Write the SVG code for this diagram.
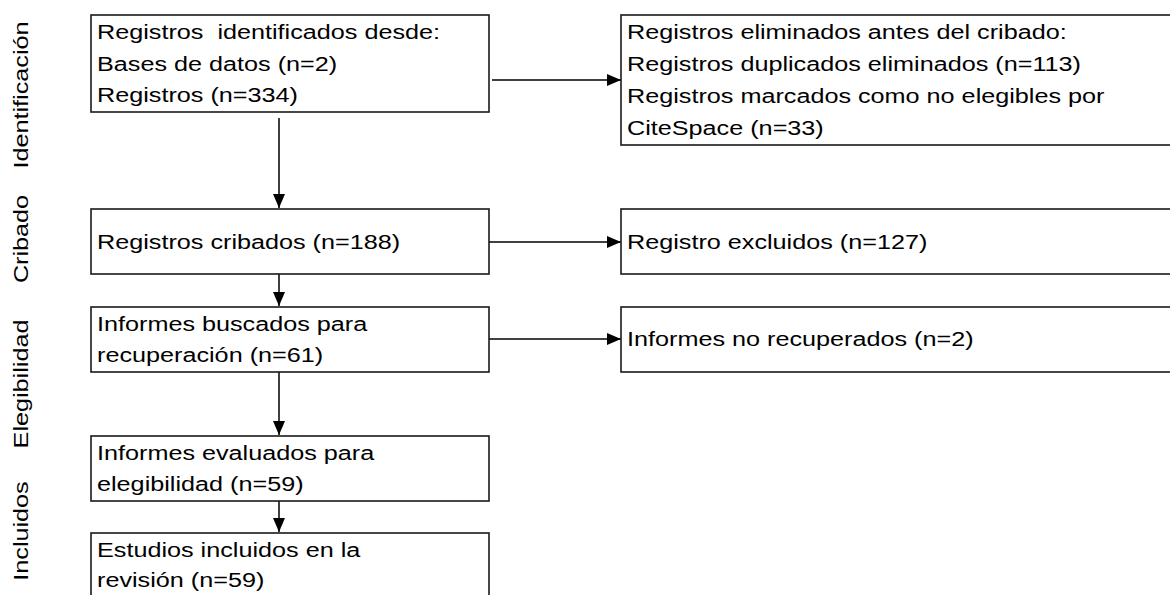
<svg xmlns="http://www.w3.org/2000/svg" width="1170" height="595" viewBox="0 0 1170 595">
<style>
.box{fill:#fff;stroke:#1a1a1a;stroke-width:1.6}
.t{font-family:"Liberation Sans",Arial,sans-serif;font-size:21px;fill:#000}
.lbl{font-family:"Liberation Sans",Arial,sans-serif;font-size:21px;fill:#000;text-anchor:middle}
.c{stroke:#000;stroke-width:1.5;fill:none;marker-end:url(#ah)}
</style>
<defs>
<marker id="ah" markerUnits="userSpaceOnUse" markerWidth="14" markerHeight="12" viewBox="0 0 14 12" refX="14" refY="6" orient="auto">
<path d="M0,0 L14,6 L0,12 Z" fill="#000"/>
</marker>
</defs>
<rect width="1170" height="595" fill="#fff"/>
<g id="phases">
<text class="lbl" transform="translate(28 95) rotate(-90) scale(1.2 1)">Identificación</text>
<text class="lbl" transform="translate(28 239) rotate(-90) scale(1.2 1)">Cribado</text>
<text class="lbl" transform="translate(28 384) rotate(-90) scale(1.2 1)">Elegibilidad</text>
<text class="lbl" transform="translate(28 531) rotate(-90) scale(1.2 1)">Incluidos</text>
</g>
<g id="connectors">
<line class="c" x1="279" y1="118" x2="279" y2="208"/>
<line class="c" x1="279" y1="274" x2="279" y2="306"/>
<line class="c" x1="279" y1="372" x2="279" y2="435"/>
<line class="c" x1="279" y1="501" x2="279" y2="532"/>
<line class="c" x1="492" y1="80" x2="621" y2="80"/>
<line class="c" x1="487" y1="242" x2="621" y2="242"/>
<line class="c" x1="487" y1="339" x2="621" y2="339"/>
</g>
<g id="n1">
<rect class="box" x="91" y="15" width="398" height="97"/>
<text class="t" xml:space="preserve" transform="translate(97 39) scale(1.2 1)">Registros  identificados desde:</text>
<text class="t" transform="translate(97 70.5) scale(1.2 1)">Bases de datos (n=2)</text>
<text class="t" transform="translate(97 102) scale(1.2 1)">Registros (n=334)</text>
</g>
<g id="n2">
<rect class="box" x="621" y="15" width="570" height="130"/>
<text class="t" transform="translate(627 39) scale(1.2 1)">Registros eliminados antes del cribado:</text>
<text class="t" transform="translate(627 71) scale(1.2 1)">Registros duplicados eliminados (n=113)</text>
<text class="t" transform="translate(627 103) scale(1.2 1)">Registros marcados como no elegibles por</text>
<text class="t" transform="translate(627 135) scale(1.2 1)">CiteSpace (n=33)</text>
</g>
<g id="n3">
<rect class="box" x="91" y="209" width="398" height="65"/>
<text class="t" transform="translate(97 249) scale(1.2 1)">Registros cribados (n=188)</text>
</g>
<g id="n4">
<rect class="box" x="621" y="209" width="570" height="65"/>
<text class="t" transform="translate(627 249) scale(1.2 1)">Registro excluidos (n=127)</text>
</g>
<g id="n5">
<rect class="box" x="91" y="307" width="398" height="65"/>
<text class="t" transform="translate(97 331) scale(1.2 1)">Informes buscados para</text>
<text class="t" transform="translate(97 362) scale(1.2 1)">recuperación (n=61)</text>
</g>
<g id="n6">
<rect class="box" x="621" y="307" width="570" height="65"/>
<text class="t" transform="translate(627 346) scale(1.2 1)">Informes no recuperados (n=2)</text>
</g>
<g id="n7">
<rect class="box" x="91" y="436" width="398" height="65"/>
<text class="t" transform="translate(97 460) scale(1.2 1)">Informes evaluados para</text>
<text class="t" transform="translate(97 491) scale(1.2 1)">elegibilidad (n=59)</text>
</g>
<g id="n8">
<rect class="box" x="91" y="533" width="398" height="80"/>
<text class="t" transform="translate(97 557) scale(1.2 1)">Estudios incluidos en la</text>
<text class="t" transform="translate(97 587) scale(1.2 1)">revisión (n=59)</text>
</g>
</svg>
